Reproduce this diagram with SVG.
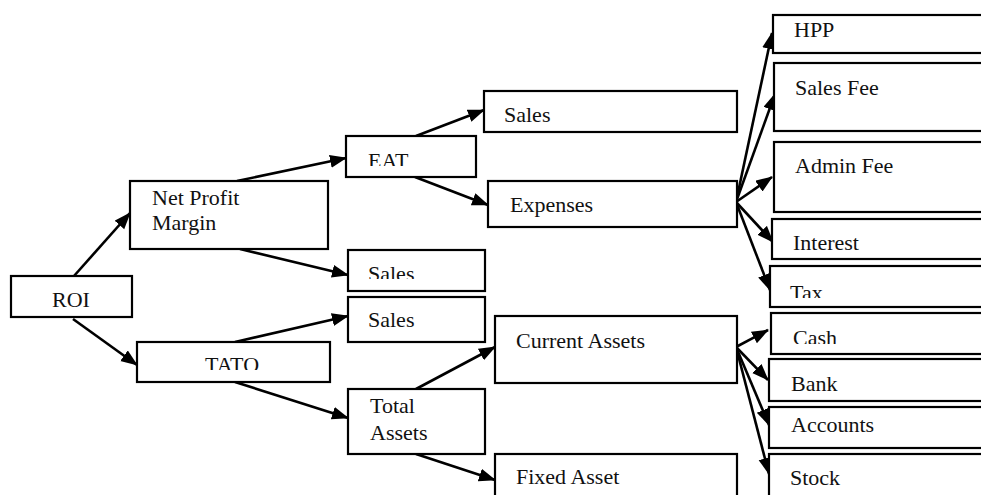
<svg xmlns="http://www.w3.org/2000/svg" width="981" height="495" viewBox="0 0 981 495">
<style>
.box{fill:#fff;stroke:#000;stroke-width:2.2}
.t{font-family:"Liberation Serif","Times New Roman",serif;font-size:22px;fill:#111}
.c line{stroke:#000;stroke-width:2.6;marker-end:url(#ah)}
</style>
<defs>
<marker id="ah" markerUnits="userSpaceOnUse" markerWidth="18" markerHeight="14" refX="16" refY="6.5" orient="auto">
<path d="M0,0 L17,6.5 L0,13 z" fill="#000"/>
</marker>
<clipPath id="cEAT"><rect x="346" y="136" width="130" height="30"/></clipPath>
<clipPath id="cS2"><rect x="348" y="250" width="137" height="29"/></clipPath>
<clipPath id="cTATO"><rect x="137" y="342" width="193" height="28"/></clipPath>
<clipPath id="cTax"><rect x="770" y="266" width="211" height="32"/></clipPath>
<clipPath id="cCash"><rect x="771" y="313" width="210" height="31"/></clipPath>
</defs>
<rect width="981" height="495" fill="#fff"/>
<g class="c" id="connectors">
<line x1="74" y1="276" x2="130" y2="213"/>
<line x1="73" y1="319" x2="137" y2="365"/>
<line x1="237" y1="181" x2="346" y2="158"/>
<line x1="240" y1="249" x2="348" y2="275"/>
<line x1="235" y1="342" x2="348" y2="316"/>
<line x1="235" y1="382" x2="348" y2="418"/>
<line x1="416" y1="136" x2="484" y2="110"/>
<line x1="415" y1="177" x2="488" y2="205"/>
<line x1="416" y1="389" x2="495" y2="347"/>
<line x1="416" y1="454" x2="495" y2="480"/>
<line x1="736" y1="202" x2="772" y2="33"/>
<line x1="736" y1="202" x2="775" y2="94"/>
<line x1="736" y1="202" x2="772" y2="177"/>
<line x1="736" y1="202" x2="773" y2="242"/>
<line x1="736" y1="202" x2="770" y2="290"/>
<line x1="736" y1="347" x2="768" y2="330"/>
<line x1="736" y1="347" x2="768" y2="380"/>
<line x1="736" y1="347" x2="769" y2="425"/>
<line x1="736" y1="347" x2="769" y2="474"/>
</g>
<g id="roi"><rect class="box" x="11" y="276" width="121" height="41"/><text class="t" x="71" y="307" text-anchor="middle">ROI</text></g>
<g id="npm"><rect class="box" x="130" y="181" width="198" height="68"/><text class="t" x="152" y="205">Net Profit</text><text class="t" x="152" y="230">Margin</text></g>
<g id="tato"><rect class="box" x="137" y="342" width="193" height="40"/><text class="t" x="232" y="372" text-anchor="middle" clip-path="url(#cTATO)">TATO</text></g>
<g id="eat"><rect class="box" x="346" y="136" width="130" height="41"/><text class="t" x="368" y="168" clip-path="url(#cEAT)">EAT</text></g>
<g id="sales2"><rect class="box" x="348" y="250" width="137" height="41"/><text class="t" x="368" y="281" clip-path="url(#cS2)">Sales</text></g>
<g id="sales3"><rect class="box" x="348" y="297" width="137" height="45"/><text class="t" x="368" y="327">Sales</text></g>
<g id="totalassets"><rect class="box" x="348" y="389" width="137" height="65"/><text class="t" x="370" y="413">Total</text><text class="t" x="370" y="440">Assets</text></g>
<g id="sales1"><rect class="box" x="484" y="91" width="253" height="41"/><text class="t" x="504" y="122">Sales</text></g>
<g id="expenses"><rect class="box" x="488" y="181" width="249" height="46"/><text class="t" x="510" y="212">Expenses</text></g>
<g id="currentassets"><rect class="box" x="495" y="316" width="242" height="67"/><text class="t" x="516" y="348">Current Assets</text></g>
<g id="fixedasset"><rect class="box" x="495" y="454" width="242" height="60"/><text class="t" x="516" y="484">Fixed Asset</text></g>
<g id="hpp"><rect class="box" x="773" y="15" width="220" height="38"/><text class="t" x="794" y="37">HPP</text></g>
<g id="salesfee"><rect class="box" x="774" y="63" width="220" height="68"/><text class="t" x="795" y="95">Sales Fee</text></g>
<g id="adminfee"><rect class="box" x="774" y="142" width="220" height="70"/><text class="t" x="795" y="173">Admin Fee</text></g>
<g id="interest"><rect class="box" x="772" y="219" width="220" height="40"/><text class="t" x="793" y="250">Interest</text></g>
<g id="tax"><rect class="box" x="770" y="266" width="220" height="41"/><text class="t" x="790" y="300" clip-path="url(#cTax)">Tax</text></g>
<g id="cash"><rect class="box" x="771" y="313" width="220" height="41"/><text class="t" x="793" y="345" clip-path="url(#cCash)">Cash</text></g>
<g id="bank"><rect class="box" x="769" y="359" width="220" height="42"/><text class="t" x="791" y="391">Bank</text></g>
<g id="accounts"><rect class="box" x="769" y="407" width="220" height="41"/><text class="t" x="791" y="432">Accounts</text></g>
<g id="stock"><rect class="box" x="769" y="454" width="220" height="60"/><text class="t" x="790" y="485">Stock</text></g>
</svg>
